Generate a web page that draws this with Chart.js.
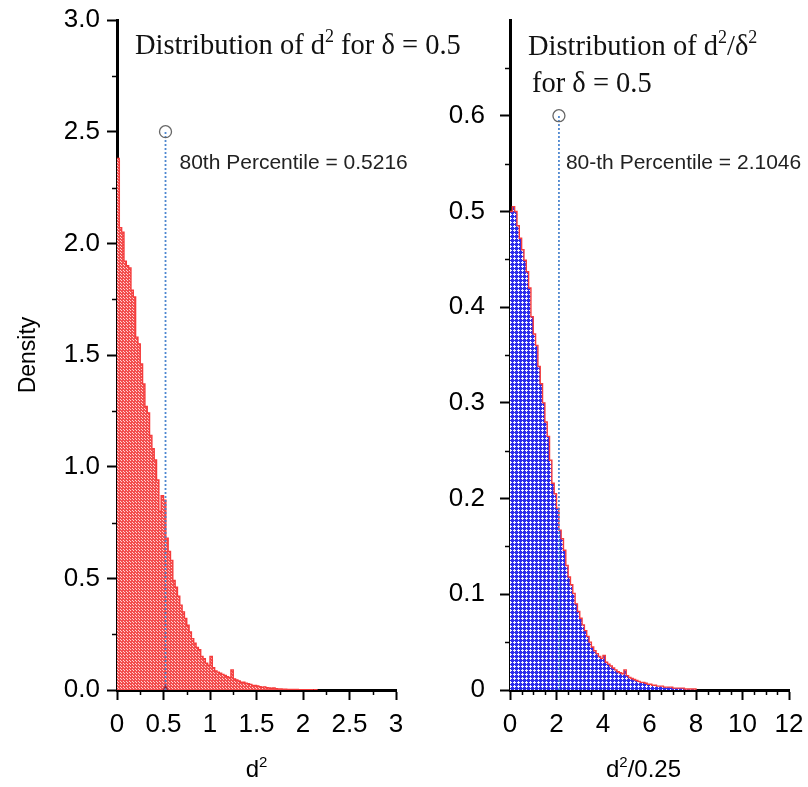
<!DOCTYPE html>
<html>
<head>
<meta charset="utf-8">
<script src="https://cdn.jsdelivr.net/npm/chart.js@4.4.1/dist/chart.umd.min.js"></script>
<style>
  html, body { margin: 0; padding: 0; background: #fff; }
  #wrap { position: relative; width: 808px; height: 787px; overflow: hidden; }
  #left { position: absolute; left: 0; top: 0; }
  #right { position: absolute; left: 420px; top: 0; }
</style>
</head>
<body>
<div id="wrap">
  <canvas id="left" width="470" height="787"></canvas>
  <canvas id="right" width="388" height="787"></canvas>
</div>
<script>
// ---- data: histogram densities (bin width given separately) ----
const leftBinWidth = 0.025;
const leftDensity = [
  2.38, 2.07, 2.05, 1.92, 1.90, 1.89, 1.79, 1.76, 1.58, 1.55,
  1.46, 1.37, 1.27, 1.24, 1.14, 1.08, 1.03, 0.94, 0.80, 0.87,
  0.85, 0.68, 0.62, 0.58, 0.49, 0.46, 0.42, 0.38, 0.35, 0.32,
  0.29, 0.26, 0.23, 0.21, 0.19, 0.18, 0.15, 0.14, 0.12, 0.11,
  0.15, 0.10, 0.085, 0.08, 0.075, 0.07, 0.065, 0.06, 0.055, 0.09,
  0.05, 0.045, 0.04, 0.035, 0.035, 0.03, 0.028, 0.025, 0.02, 0.02,
  0.018, 0.015, 0.012, 0.014, 0.01, 0.009, 0.008, 0.009, 0.006, 0.005,
  0.005, 0.004, 0.004, 0.003, 0.003, 0.002, 0.002, 0.002, 0.001, 0.001,
  0.001, 0.001, 0.001, 0.001, 0, 0.001
];
const rightBinWidth = 0.1;
const rightDensity = [
  0.50, 0.505, 0.50, 0.485, 0.472, 0.46, 0.449, 0.437, 0.42, 0.39,
  0.372, 0.36, 0.338, 0.32, 0.30, 0.28, 0.265, 0.24, 0.216, 0.205,
  0.19, 0.167, 0.158, 0.146, 0.13, 0.118, 0.11, 0.101, 0.09, 0.082,
  0.075, 0.068, 0.062, 0.056, 0.05, 0.045, 0.041, 0.038, 0.035, 0.033,
  0.036, 0.029, 0.027, 0.025, 0.023, 0.021, 0.019, 0.018, 0.017, 0.021,
  0.015, 0.013, 0.012, 0.011, 0.010, 0.009, 0.008, 0.008, 0.007, 0.006,
  0.006, 0.005, 0.005, 0.004, 0.004, 0.004, 0.003, 0.003, 0.003, 0.003,
  0.002, 0.002, 0.002, 0.002, 0.002, 0.001, 0.001, 0.001, 0.001, 0.001
];

// percentile markers
const leftPercentile = 0.5216;
const leftMarkerY = 2.5;
const rightPercentile = 2.1046;
const rightMarkerY = 0.6;

// axis ticks
const leftXTicks = [0, 0.5, 1, 1.5, 2, 2.5, 3];
const leftXMinor = [0.25, 0.75, 1.25, 1.75, 2.25, 2.75];
const leftYTicks = [0, 0.5, 1, 1.5, 2, 2.5, 3];
const leftYMinor = [0.25, 0.75, 1.25, 1.75, 2.25, 2.75];
const rightXTicks = [0, 2, 4, 6, 8, 10, 12];
const rightXMinor = [0.5, 1, 1.5, 2.5, 3, 3.5, 4.5, 5, 5.5, 6.5, 7, 7.5, 8.5, 9, 9.5, 10.5, 11, 11.5];
const rightYTicks = [0, 0.1, 0.2, 0.3, 0.4, 0.5, 0.6];
const rightYMinor = [0.05, 0.15, 0.25, 0.35, 0.45, 0.55, 0.65];

// text
const leftTitle = [{ t: 'Distribution of d' }, { t: '2', sup: true }, { t: ' for \u03b4 = 0.5' }];
const rightTitle1 = [{ t: 'Distribution of d' }, { t: '2', sup: true }, { t: '/\u03b4' }, { t: '2', sup: true }];
const rightTitle2 = [{ t: 'for \u03b4 = 0.5' }];
const leftLabel = '80th Percentile = 0.5216';
const rightLabel = '80-th Percentile = 2.1046';
const leftXTitle = [{ t: 'd' }, { t: '2', sup: true }];
const rightXTitle = [{ t: 'd' }, { t: '2', sup: true }, { t: '/0.25' }];

// ---- helpers ----
function stepPoints(width, values) {
  const pts = values.map((v, i) => ({ x: i * width, y: v }));
  pts.push({ x: values.length * width, y: 0 });
  return pts;
}

function makePattern(size, base, dots, dotColor) {
  const c = document.createElement('canvas');
  c.width = size; c.height = size;
  const g = c.getContext('2d');
  g.fillStyle = base; g.fillRect(0, 0, size, size);
  g.fillStyle = dotColor;
  dots.forEach(([x, y]) => g.fillRect(x, y, 1, 1));
  return g.createPattern(c, 'repeat');
}

const redDots = makePattern(3, 'rgb(242,78,78)', [[1, 1], [0, 0]], 'rgb(255,210,210)');
const blueCross = makePattern(4, 'rgb(45,45,235)', [[2, 1], [1, 2], [2, 2], [3, 2], [2, 3]], 'rgb(245,245,255)');

const SANS = '"Liberation Sans", Arial, sans-serif';
const SERIF = '"Liberation Serif", "Times New Roman", serif';

// width of a run of text segments with superscripts
function richWidth(ctx, segs, size, family) {
  let w = 0;
  segs.forEach(s => {
    ctx.font = `${s.sup ? Math.round(size * 0.62) : size}px ${family}`;
    w += ctx.measureText(s.t).width;
  });
  return w;
}

// draws a line of text with raised small superscripts
function drawRich(ctx, segs, x, y, size, family) {
  let cx = x;
  segs.forEach(s => {
    if (s.sup) {
      ctx.font = `${Math.round(size * 0.62)}px ${family}`;
      ctx.fillText(s.t, cx, y - size * 0.42);
    } else {
      ctx.font = `${size}px ${family}`;
      ctx.fillText(s.t, cx, y);
    }
    cx += ctx.measureText(s.t).width;
  });
}

const minorTicks = {
  id: 'minorTicks',
  afterDraw(chart, args, opts) {
    const { ctx } = chart;
    const xs = chart.scales.x, ys = chart.scales.y;
    ctx.save();
    ctx.strokeStyle = '#000';
    ctx.lineWidth = 1.5;
    opts.x.forEach(v => {
      const px = Math.round(xs.getPixelForValue(v)) + 0.5;
      ctx.beginPath(); ctx.moveTo(px, ys.bottom); ctx.lineTo(px, ys.bottom + opts.len); ctx.stroke();
    });
    opts.y.forEach(v => {
      const py = Math.round(ys.getPixelForValue(v)) + 0.5;
      ctx.beginPath(); ctx.moveTo(xs.left, py); ctx.lineTo(xs.left - opts.len, py); ctx.stroke();
    });
    ctx.restore();
  }
};

const notes = {
  id: 'notes',
  afterDraw(chart, args, opts) {
    const { ctx, chartArea } = chart;
    const xs = chart.scales.x, ys = chart.scales.y;
    ctx.save();
    ctx.textBaseline = 'alphabetic';
    // panel titles
    ctx.fillStyle = '#111';
    opts.titles.forEach(t => drawRich(ctx, t.segs, t.x, t.y, opts.titleSize, SERIF));
    // x-axis title, centred under the axis
    ctx.fillStyle = '#000';
    const w = richWidth(ctx, opts.xTitle, opts.xTitleSize, SANS);
    drawRich(ctx, opts.xTitle, (chartArea.left + chartArea.right) / 2 - w / 2 + opts.xTitleDx,
      chartArea.bottom + opts.xTitleDy, opts.xTitleSize, SANS);
    // percentile annotation
    ctx.font = `${opts.labelSize}px ${SANS}`;
    ctx.fillStyle = '#222';
    ctx.textBaseline = 'middle';
    ctx.fillText(opts.label, xs.getPixelForValue(opts.p) + opts.dx, ys.getPixelForValue(opts.markerY) + opts.dy);
    ctx.restore();
  }
};

function axis(min, max, ticksArr, fmt, title, titlePad, labelPad, fitFn) {
  return {
    type: 'linear',
    min, max,
    afterBuildTicks: s => { s.ticks = ticksArr.map(v => ({ value: v })); },
    afterFit: fitFn,
    border: { display: true, width: 3, color: '#000' },
    grid: { display: true, drawOnChartArea: false, drawTicks: true, tickLength: 10, tickWidth: 2, tickColor: '#000' },
    ticks: { color: '#000', font: { family: SANS, size: 26 }, padding: labelPad, callback: fmt, autoSkip: false, maxRotation: 0 },
    title: title ? { display: true, text: title, color: '#000', font: { family: SANS, size: 23 }, padding: titlePad } : { display: false }
  };
}

const trimNum = v => String(Math.round(v * 1000) / 1000);

function buildChart(id, cfg) {
  return new Chart(document.getElementById(id), {
    type: 'line',
    data: {
      datasets: [
        {
          data: [{ x: cfg.p, y: 0 }, { x: cfg.p, y: cfg.markerY }],
          borderColor: 'rgba(70,130,205,0.95)',
          borderWidth: 1.8,
          borderDash: [2, 2],
          fill: false,
          pointRadius: cfg.pointRadius,
          pointStyle: ['triangle', 'circle'],
          pointBorderColor: cfg.pointColors,
          pointBackgroundColor: 'rgba(0,0,0,0)',
          pointBorderWidth: 1.3,
          order: 0
        },
        {
          data: stepPoints(cfg.binWidth, cfg.density),
          stepped: 'before',
          borderColor: 'rgb(245,60,60)',
          borderWidth: 1.4,
          backgroundColor: cfg.fillPattern,
          fill: 'origin',
          pointRadius: 0,
          order: 1
        }
      ]
    },
    options: {
      responsive: false,
      animation: false,
      events: [],
      layout: { padding: cfg.padding },
      plugins: {
        legend: { display: false },
        tooltip: { enabled: false },
        minorTicks: { x: cfg.xMinor, y: cfg.yMinor, len: 5 },
        notes: {
          titles: cfg.titles, titleSize: 28.5, labelSize: 21,
          xTitle: cfg.xTitle, xTitleSize: 24, xTitleDx: cfg.xTitleDx, xTitleDy: 87,
          label: cfg.label, p: cfg.p, markerY: cfg.markerY, dx: cfg.labelDx, dy: cfg.labelDy
        }
      },
      scales: {
        x: axis(0, cfg.xMax, cfg.xTicks, trimNum, null, null, 9,
          s => { s.height = 97; s.paddingLeft = 0; s.paddingRight = 0; }),
        y: axis(0, cfg.yMax, cfg.yTicks, cfg.yFmt, cfg.yTitle, { top: 15 }, cfg.yLabelPad,
          s => { s.width = cfg.yWidth; s.paddingTop = 0; s.paddingBottom = 0; })
      }
    },
    plugins: [minorTicks, notes]
  });
}

buildChart('left', {
  p: leftPercentile, markerY: leftMarkerY,
  pointRadius: [4, 6], pointColors: ['rgb(150,40,60)', '#666'],
  binWidth: leftBinWidth, density: leftDensity, fillPattern: redDots,
  padding: { left: 0, top: 20, right: 74, bottom: 0 },
  xMinor: leftXMinor, yMinor: leftYMinor,
  titles: [{ segs: leftTitle, x: 135, y: 54 }],
  label: leftLabel, labelDx: 14, labelDy: 32,
  xMax: 3, xTicks: leftXTicks, xTitle: leftXTitle, xTitleDx: 0,
  yMax: 3, yTicks: leftYTicks, yFmt: v => v.toFixed(1), yTitle: 'Density', yWidth: 117, yLabelPad: 7
});

buildChart('right', {
  p: rightPercentile, markerY: rightMarkerY,
  pointRadius: [0, 6], pointColors: ['rgba(0,0,0,0)', '#666'],
  binWidth: rightBinWidth, density: rightDensity, fillPattern: blueCross,
  padding: { left: 0, top: 20, right: 19, bottom: 0 },
  xMinor: rightXMinor, yMinor: rightYMinor,
  titles: [{ segs: rightTitle1, x: 108, y: 55 }, { segs: rightTitle2, x: 112, y: 92 }],
  label: rightLabel, labelDx: 7, labelDy: 47,
  xMax: 12, xTicks: rightXTicks, xTitle: rightXTitle, xTitleDx: -6,
  yMax: 0.7, yTicks: rightYTicks, yFmt: trimNum, yTitle: null, yWidth: 90, yLabelPad: 15
});
</script>
</body>
</html>
